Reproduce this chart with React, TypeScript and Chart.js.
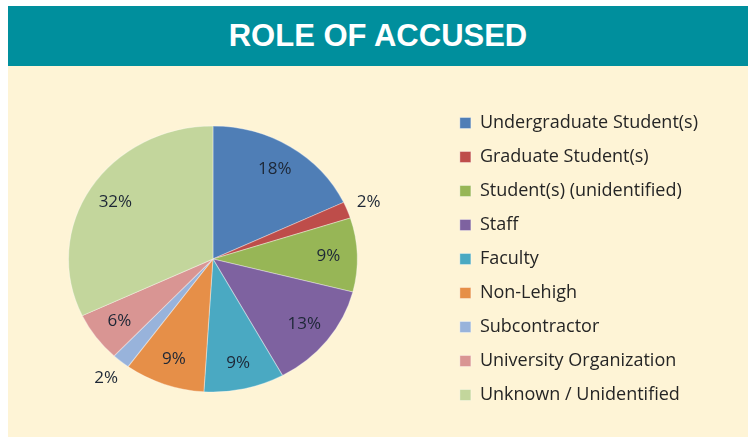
import React, { useEffect, useRef } from "react";
import { Chart, registerables } from "chart.js";

Chart.register(...registerables);

const TITLE = "ROLE OF ACCUSED";
const categories = [
  "Undergraduate Student(s)",
  "Graduate Student(s)",
  "Student(s) (unidentified)",
  "Staff",
  "Faculty",
  "Non-Lehigh",
  "Subcontractor",
  "University Organization",
  "Unknown / Unidentified",
];
const percentages = [18, 2, 9, 13, 9, 9, 2, 6, 32];
const sliceColors = [
  "#4F7EB6",
  "#BE4D4A",
  "#97B656",
  "#7E62A0",
  "#4AA9C2",
  "#E68F48",
  "#98B3DB",
  "#D99593",
  "#C3D69C",
];

const X_STRETCH = 1.086;
const PIE_RADIUS = 133;

const ellipsePlugin = {
  id: "ellipsePie",
  beforeDatasetsDraw(chart: any) {
    const arc = chart.getDatasetMeta(0).data[0];
    const ctx = chart.ctx;
    ctx.save();
    ctx.translate(arc.x, arc.y);
    ctx.scale(X_STRETCH, 1);
    ctx.translate(-arc.x, -arc.y);
  },
  afterDatasetsDraw(chart: any) {
    const ctx = chart.ctx;
    ctx.restore();
    const meta = chart.getDatasetMeta(0);
    ctx.save();
    ctx.font = "17px 'Open Sans'";
    ctx.fillStyle = "#1d2736";
    ctx.textAlign = "center";
    ctx.textBaseline = "middle";
    meta.data.forEach((el: any, i: number) => {
      const { x, y, startAngle, endAngle, outerRadius } = el.getProps(
        ["x", "y", "startAngle", "endAngle", "outerRadius"],
        true
      );
      const mid = (startAngle + endAngle) / 2;
      const f = percentages[i] < 5 ? 1.16 : 0.8;
      const lx = x + Math.cos(mid) * outerRadius * f * X_STRETCH;
      const ly = y + Math.sin(mid) * outerRadius * f;
      ctx.fillText(percentages[i] + "%", lx, ly);
    });
    ctx.restore();
  },
};

export default function App() {
  const ref = useRef<HTMLCanvasElement | null>(null);
  useEffect(() => {
    if (!ref.current) return;
    const chart = new Chart(ref.current, {
      type: "pie",
      data: {
        labels: categories,
        datasets: [
          {
            data: percentages,
            backgroundColor: sliceColors,
            borderColor: "rgba(255,255,255,0.35)",
            borderWidth: 1,
            radius: PIE_RADIUS,
            clip: false,
          } as any,
        ],
      },
      options: {
        responsive: false,
        animation: false,
        layout: { padding: { left: 0, right: 40, top: 30, bottom: 15 } },
        plugins: {
          tooltip: { enabled: false },
          title: { display: false },
          legend: {
            position: "right",
            labels: {
              boxWidth: 11,
              boxHeight: 11,
              padding: 16,
              color: "#252525",
              font: { family: "'Open Sans'", size: 18 },
            },
          },
        },
      },
      plugins: [ellipsePlugin],
    });
    return () => chart.destroy();
  }, []);

  return (
    <div style={{ position: "absolute", left: 8, top: 6, width: 740, overflow: "hidden" }}>
      <div
        style={{
          height: 60,
          background: "#008F9D",
          color: "#ffffff",
          fontFamily: "'Liberation Sans', Arial, sans-serif",
          fontWeight: "bold",
          fontSize: 31,
          lineHeight: "60px",
          textAlign: "center",
        }}
      >
        {TITLE}
      </div>
      <div style={{ background: "#FEF4D6", height: 371, overflow: "hidden" }}>
        <canvas
          ref={ref}
          width={766}
          height={371}
          style={{ display: "block", marginLeft: -26 }}
        />
      </div>
    </div>
  );
}
